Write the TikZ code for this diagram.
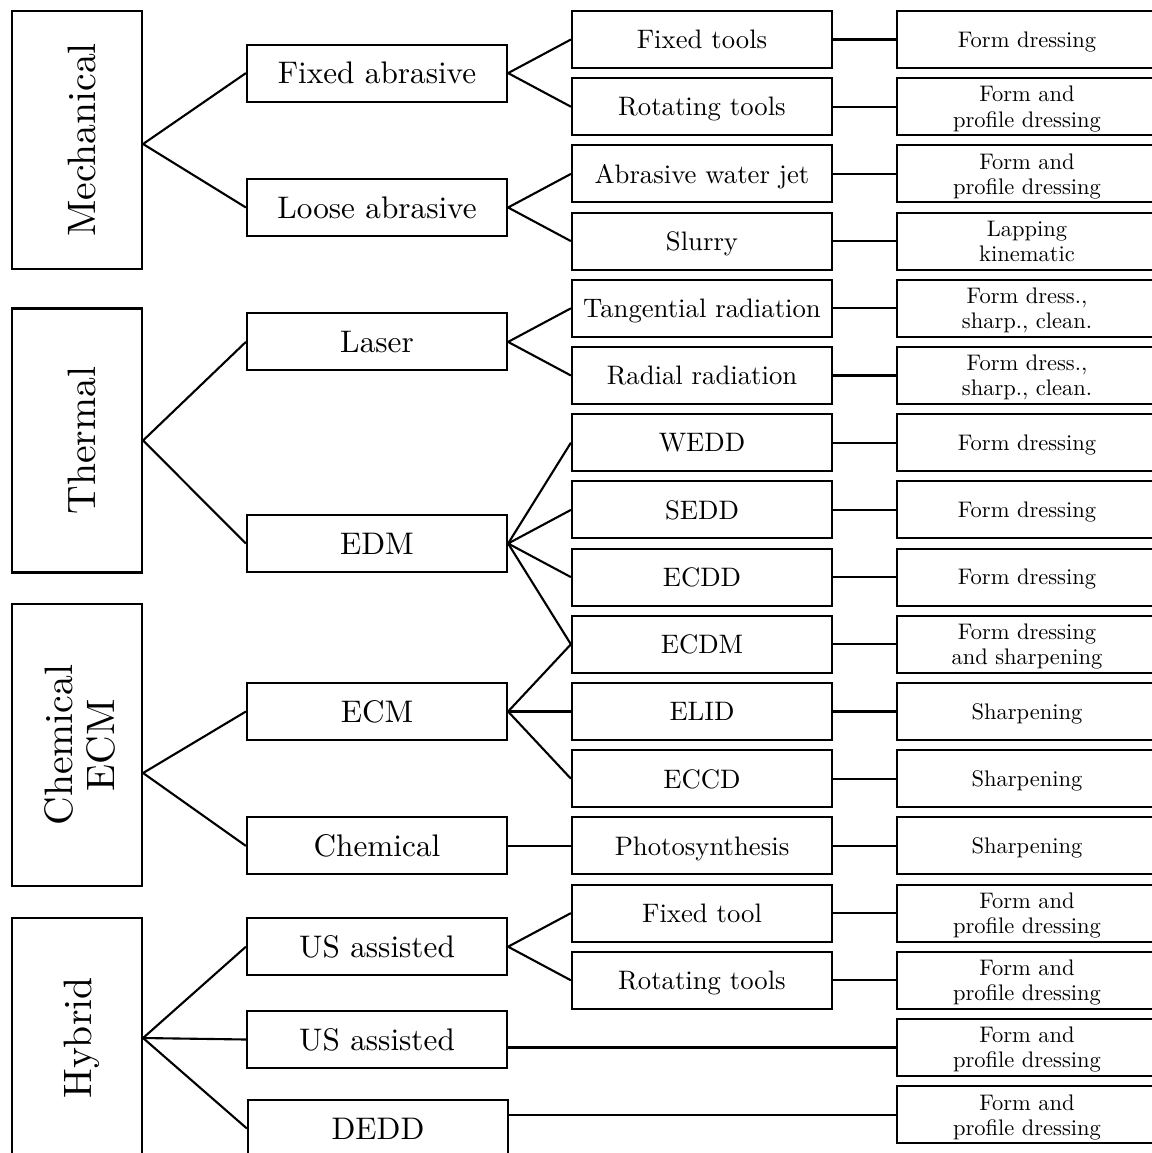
\documentclass[tikz,border=0pt]{standalone}
\usepackage{graphicx}
\DeclareFontShape{TU}{lmr}{m}{n}{<-> "[lmroman10-regular]:mapping=tex-text;"}{}
\begin{document}
\begin{tikzpicture}[x=0.025cm,y=-0.025cm,
  mainbox/.style={draw,line width=1.5pt,minimum width=3.25cm,inner sep=0pt,font=\fontsize{28.2}{29.9}\selectfont},
  groupbox/.style={draw,line width=1.5pt,minimum width=6.5cm,minimum height=1.425cm,inner sep=0pt,text depth=-3.5pt,font=\fontsize{22.2}{26}\selectfont},
  methodbox/.style={draw,line width=1.5pt,minimum width=6.5cm,minimum height=1.425cm,inner sep=0pt,text depth=-4pt,font=\fontsize{19}{22}\selectfont},
  usebox/.style={draw,line width=1.5pt,minimum width=6.5cm,minimum height=1.425cm,inner sep=0pt,align=center,text depth=-1pt,font=\fontsize{16}{17.8}\selectfont},
  link/.style={line width=1.5pt}]

\useasboundingbox (0,0) rectangle (1152,1153);

\node[mainbox,minimum height=6.45cm] (mech) at (77,140) {\hspace{7pt}\rotatebox{90}{Mechanical}};
\node[mainbox,minimum height=6.6cm] (therm) at (77,440.5) {\hspace{7pt}\rotatebox{90}{Thermal}};
\node[mainbox,minimum height=7.05cm] (chemecm) at (77,745) {\hspace{11pt}\rotatebox{90}{\begin{tabular}{@{}c@{}}Chemical\\ECM\end{tabular}}};
\node[mainbox,minimum height=6cm] (hyb) at (77,1038) {\hspace{7pt}\rotatebox{90}{Hybrid}};

\coordinate (mechout) at ([yshift=-0.1cm]mech.east);
\coordinate (chemecmout) at ([yshift=-0.7cm]chemecm.east);

\node[groupbox] (fixabr) at (377,73.1) {Fixed abrasive};
\node[groupbox] (looseabr) at (377,207.5) {Loose abrasive};
\node[groupbox] (laser) at (377,341.9) {Laser};
\node[groupbox] (edm) at (377,543.5) {EDM};
\node[groupbox] (ecm) at (377,711.5) {ECM};
\node[groupbox] (chem) at (377,845.9) {Chemical};
\node[groupbox] (usaone) at (377,946.7) {US assisted};
\node[groupbox] (usatwo) at (377,1039.5) {US assisted};
\node[groupbox] (dedd) at (378,1128.5) {DEDD};

\node[methodbox] (fixtools) at (702,39.5) {Fixed tools};
\node[methodbox] (rottools) at (702,106.7) {Rotating tools};
\node[methodbox] (awj) at (702,173.9) {Abrasive water jet};
\node[methodbox] (slurry) at (702,241.1) {Slurry};
\node[methodbox] (tangrad) at (702,308.3) {Tangential radiation};
\node[methodbox] (radrad) at (702,375.5) {Radial radiation};
\node[methodbox] (wedd) at (702,442.7) {WEDD};
\node[methodbox] (sedd) at (702,509.9) {SEDD};
\node[methodbox] (ecdd) at (702,577.1) {ECDD};
\node[methodbox] (ecdm) at (702,644.3) {ECDM};
\node[methodbox] (elid) at (702,711.5) {ELID};
\node[methodbox] (eccd) at (702,778.7) {ECCD};
\node[methodbox] (photo) at (702,845.9) {Photosynthesis};
\node[methodbox] (fixtool) at (702,913.1) {Fixed tool};
\node[methodbox] (rottoolsb) at (702,980.3) {Rotating tools};

\node[usebox] (app1) at (1027,39.5) {Form dressing};
\node[usebox] (app2) at (1027,106.7) {Form and\\profile dressing};
\node[usebox] (app3) at (1027,173.9) {Form and\\profile dressing};
\node[usebox] (app4) at (1027,241.1) {Lapping\\kinematic};
\node[usebox] (app5) at (1027,308.3) {Form dress.,\\sharp., clean.};
\node[usebox] (app6) at (1027,375.5) {Form dress.,\\sharp., clean.};
\node[usebox] (app7) at (1027,442.7) {Form dressing};
\node[usebox] (app8) at (1027,509.9) {Form dressing};
\node[usebox] (app9) at (1027,577.1) {Form dressing};
\node[usebox] (app10) at (1027,644.3) {Form dressing\\and sharpening};
\node[usebox] (app11) at (1027,711.5) {Sharpening};
\node[usebox] (app12) at (1027,778.7) {Sharpening};
\node[usebox] (app13) at (1027,845.9) {Sharpening};
\node[usebox] (app14) at (1027,913.1) {Form and\\profile dressing};
\node[usebox] (app15) at (1027,980.3) {Form and\\profile dressing};
\node[usebox] (app16) at (1027,1047.5) {Form and\\profile dressing};
\node[usebox] (app17) at (1027,1114.7) {Form and\\profile dressing};

\draw[link] (fixabr.west) -- (mechout) -- (looseabr.west);
\draw[link] (laser.west) -- (therm.east) -- (edm.west);
\draw[link] (ecm.west) -- (chemecmout) -- (chem.west);
\draw[link] (usaone.west) -- (hyb.east) -- (dedd.west);
\draw[link] (hyb.east) -- (usatwo.west);

\draw[link] (fixtools.west) -- (fixabr.east) -- (rottools.west);
\draw[link] (awj.west) -- (looseabr.east) -- (slurry.west);
\draw[link] (tangrad.west) -- (laser.east) -- (radrad.west);
\draw[link] (wedd.west) -- (edm.east) -- (ecdm.west);
\draw[link] (sedd.west) -- (edm.east) -- (ecdd.west);
\draw[link] (ecdm.west) -- (ecm.east) -- (eccd.west);
\draw[link] (ecm.east) -- (elid.west);
\draw[link] (chem.east) -- (photo.west);
\draw[link] (fixtool.west) -- (usaone.east) -- (rottoolsb.west);
\draw[link] (usatwo.east |- app16) -- (app16.west);
\draw[link] (dedd.east |- app17) -- (app17.west);

\draw[link] (fixtools) -- (app1);
\draw[link] (rottools) -- (app2);
\draw[link] (awj) -- (app3);
\draw[link] (slurry) -- (app4);
\draw[link] (tangrad) -- (app5);
\draw[link] (radrad) -- (app6);
\draw[link] (wedd) -- (app7);
\draw[link] (sedd) -- (app8);
\draw[link] (ecdd) -- (app9);
\draw[link] (ecdm) -- (app10);
\draw[link] (elid) -- (app11);
\draw[link] (eccd) -- (app12);
\draw[link] (photo) -- (app13);
\draw[link] (fixtool) -- (app14);
\draw[link] (rottoolsb) -- (app15);

\end{tikzpicture}
\end{document}
